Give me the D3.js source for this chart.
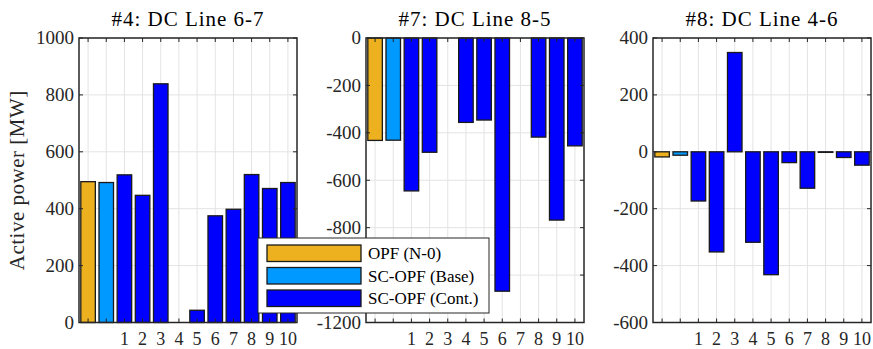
<!DOCTYPE html>
<html>
<head>
<meta charset="utf-8">
<script src="https://cdn.jsdelivr.net/npm/d3@7"></script>
<style>
  body { margin: 0; background: #fff; }
</style>
</head>
<body>
<svg id="chart" width="873" height="349"></svg>
<script>
// Data
var seriesNames = ["OPF (N-0)", "SC-OPF (Base)", "SC-OPF (Cont.)"];
var seriesColors = ["#EDB120", "#0099FF", "#0000FF"];
var contLabels = ["1", "2", "3", "4", "5", "6", "7", "8", "9", "10"];

var titles = ["#4: DC Line 6-7", "#7: DC Line 8-5", "#8: DC Line 4-6"];

// first value = OPF (N-0), second = SC-OPF (Base), then contingencies 1..10
var line4 = [495, 492, 519, 447, 839, 0, 43, 375, 398, 520, 471, 492];
var line7 = [-432, -431, -645, -482, 0, -356, -346, -1068, 0, -418, -768, -455];
var line8 = [-18, -12, -173, -352, 349, -318, -432, -38, -128, -2, -20, -47];

var yDomains = [[0, 1000], [-1200, 0], [-600, 400]];
var yTicks = [
  [0, 200, 400, 600, 800, 1000],
  [-1200, -1000, -800, -600, -400, -200, 0],
  [-600, -400, -200, 0, 200, 400]
];
var allData = [line4, line7, line8];

var serif = "'Liberation Serif', 'Times New Roman', Times, 'DejaVu Serif', 'Noto Serif', serif";

// Layout
var svg = d3.select("#chart").attr("font-family", serif);
var axLeft = [79, 366, 653];
var axWidth = 218;
var axTop = 38, axBottom = 322.5;
var tickLen = 4;

allData.forEach(function(values, p) {
  var x0 = axLeft[p];
  var g = svg.append("g").attr("transform", "translate(" + x0 + ",0)");

  var x = d3.scaleBand()
    .domain(d3.range(values.length))
    .range([0, axWidth])
    .paddingInner(0.2)
    .paddingOuter(0.1);
  var y = d3.scaleLinear().domain(yDomains[p]).range([axBottom, axTop]);

  function cx(i) { return x(i) + x.bandwidth() / 2; }

  // grid
  g.selectAll(".vgrid").data(d3.range(values.length)).enter()
    .append("line")
    .attr("x1", cx).attr("x2", cx)
    .attr("y1", axTop).attr("y2", axBottom)
    .attr("stroke", "#e3e3e3").attr("stroke-width", 1);
  g.selectAll(".hgrid").data(yTicks[p]).enter()
    .append("line")
    .attr("x1", 0).attr("x2", axWidth)
    .attr("y1", function(d) { return y(d); }).attr("y2", function(d) { return y(d); })
    .attr("stroke", "#e3e3e3").attr("stroke-width", 1);

  // bars
  g.selectAll(".bar").data(values).enter()
    .append("rect")
    .attr("x", function(d, i) { return x(i); })
    .attr("width", x.bandwidth())
    .attr("y", function(d) { return y(Math.max(0, d)); })
    .attr("height", function(d) { return Math.abs(y(d) - y(0)); })
    .attr("fill", function(d, i) { return seriesColors[Math.min(i, 2)]; })
    .attr("stroke", "#1a1a1a")
    .attr("stroke-width", 1.3);

  // ticks (inward, mirrored)
  var tickG = g.append("g").attr("stroke", "#262626").attr("stroke-width", 1);
  d3.range(values.length).forEach(function(i) {
    tickG.append("line").attr("x1", cx(i)).attr("x2", cx(i))
      .attr("y1", axBottom).attr("y2", axBottom - tickLen);
    tickG.append("line").attr("x1", cx(i)).attr("x2", cx(i))
      .attr("y1", axTop).attr("y2", axTop + tickLen);
  });
  yTicks[p].forEach(function(t) {
    tickG.append("line").attr("x1", 0).attr("x2", tickLen)
      .attr("y1", y(t)).attr("y2", y(t));
    tickG.append("line").attr("x1", axWidth).attr("x2", axWidth - tickLen)
      .attr("y1", y(t)).attr("y2", y(t));
  });

  // box
  g.append("rect")
    .attr("x", 0).attr("y", axTop)
    .attr("width", axWidth).attr("height", axBottom - axTop)
    .attr("fill", "none").attr("stroke", "#262626").attr("stroke-width", 1.5);

  // y tick labels
  g.selectAll(".ylab").data(yTicks[p]).enter()
    .append("text")
    .attr("x", -5)
    .attr("y", function(d) { return y(d); })
    .attr("dy", "0.33em")
    .attr("text-anchor", "end")
    .attr("font-size", 19)
    .attr("fill", "#262626")
    .text(function(d) { return d; });

  // x tick labels (contingencies only)
  g.selectAll(".xlab").data(contLabels).enter()
    .append("text")
    .attr("x", function(d, i) { return x(i + 2) + x.bandwidth() / 2; })
    .attr("y", 345)
    .attr("text-anchor", "middle")
    .attr("font-size", 18)
    .attr("fill", "#262626")
    .text(function(d) { return d; });

  // title
  g.append("text")
    .attr("x", axWidth / 2)
    .attr("y", 26)
    .attr("text-anchor", "middle")
    .attr("font-size", 21)
    .attr("letter-spacing", 1)
    .attr("fill", "#000")
    .text(titles[p]);
});

// y label
svg.append("text")
  .attr("transform", "translate(24," + ((axTop + axBottom) / 2) + ") rotate(-90)")
  .attr("text-anchor", "middle")
  .attr("font-size", 21)
  .attr("letter-spacing", 0.5)
  .attr("fill", "#262626")
  .text("Active power [MW]");

// legend on top of panels
var leg = svg.append("g").attr("transform", "translate(258,238)");
leg.append("rect")
  .attr("width", 231).attr("height", 75)
  .attr("fill", "#fff").attr("stroke", "#262626").attr("stroke-width", 1);
seriesNames.forEach(function(name, i) {
  leg.append("rect")
    .attr("x", 9).attr("y", 7 + i * 22.5)
    .attr("width", 94).attr("height", 16.5)
    .attr("fill", seriesColors[i])
    .attr("stroke", "#1a1a1a").attr("stroke-width", 1.3);
  leg.append("text")
    .attr("x", 110).attr("y", 15.5 + i * 22.5)
    .attr("dy", "0.35em")
    .attr("font-size", 17)
    .attr("fill", "#000")
    .text(name);
});
</script>
</body>
</html>
